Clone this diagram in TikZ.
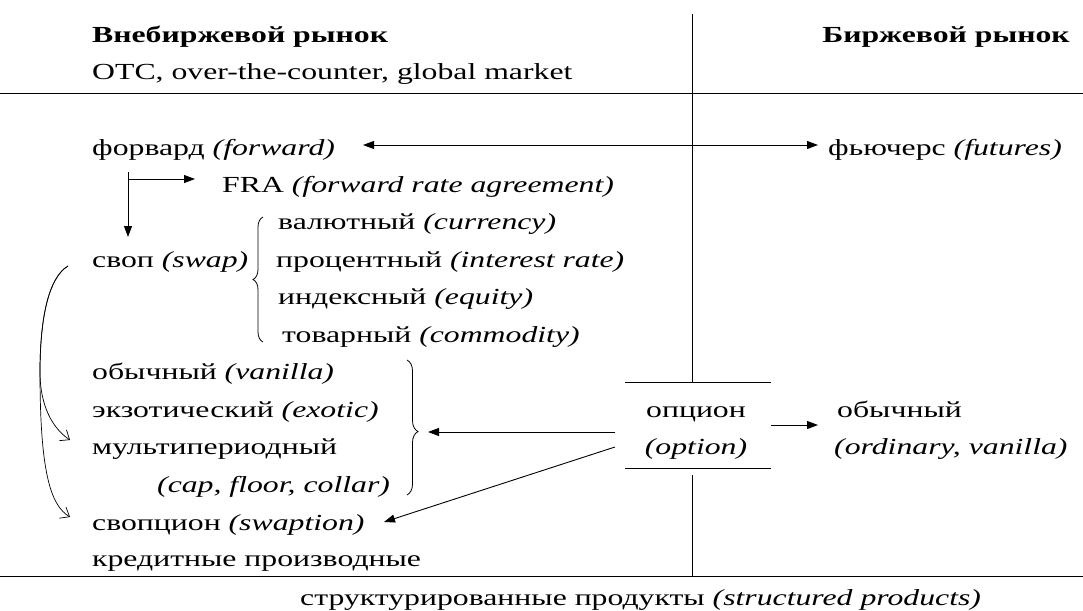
\documentclass[tikz,border=0pt]{standalone}
\usepackage{fontspec}
\setmainfont{Liberation Serif}[FakeStretch=1.38]
\usetikzlibrary{arrows.meta,decorations.pathreplacing}
\newcommand\bodyfont{\fontsize{23}{27}\selectfont}
\begin{document}
\begin{tikzpicture}[x=1pt,y=-1pt,
  txt/.style={inner sep=0pt, anchor=base west, font=\bodyfont},
  rulestyle/.style={line width=1pt},
  fillarrow/.style={line width=0.9pt,-{Triangle[length=11pt,width=8pt]}},
  dblarrow/.style={line width=0.9pt,{Triangle[length=11pt,width=8pt]}-{Triangle[length=11pt,width=8pt]}},
  openarrow/.style={line width=0.7pt,-{Straight Barb[length=8pt,width=13pt,line width=0.7pt]}},
  bracestyle/.style={line width=0.8pt, decorate, decoration={brace,amplitude=10pt}}]
\useasboundingbox (0,0) rectangle (1083,610);

% headers
\node[txt, font=\bodyfont\bfseries] (otcT) at (92,42) {Внебиржевой рынок};
\node[txt, anchor=base east, font=\bodyfont\bfseries] (exT) at (1070,42) {Биржевой рынок};
\node[txt] (otcS) at (92,79) {OTC, over-the-counter, global market};

% rules
\coordinate (hL) at (0,93); \coordinate (hR) at (1083,93);
\coordinate (bL) at (0,576); \coordinate (bR) at (1083,576);
\coordinate (vT) at (692,14); \coordinate (vM1) at (692,382);
\coordinate (vM2) at (692,475); \coordinate (vB) at (692,576);
\coordinate (oT1) at (625,382); \coordinate (oT2) at (771,382);
\coordinate (oB1) at (625,468); \coordinate (oB2) at (771,468);
\draw[rulestyle] (hL) -- (hR);
\draw[rulestyle] (bL) -- (bR);
\draw[rulestyle] (vT) -- (vM1);
\draw[rulestyle] (vM2) -- (vB);
\draw[rulestyle] (oT1) -- (oT2);
\draw[rulestyle] (oB1) -- (oB2);

% left column texts
\node[txt] (fwd) at (92,155) {форвард \textit{(forward)}};
\node[txt] (fut) at (828,155) {фьючерс \textit{(futures)}};
\node[txt] (fra) at (222,192) {FRA \textit{(forward rate agreement)}};
\node[txt] (cur) at (278,229.5) {валютный \textit{(currency)}};
\node[txt] (swap) at (92,267) {своп \textit{(swap)}};
\node[txt] (irs) at (276,267) {процентный \textit{(interest rate)}};
\node[txt] (eq) at (278,304.5) {индексный \textit{(equity)}};
\node[txt] (com) at (282,342) {товарный \textit{(commodity)}};
\node[txt] (van) at (92,379.5) {обычный \textit{(vanilla)}};
\node[txt] (exo) at (92,417) {экзотический \textit{(exotic)}};
\node[txt] (multi) at (92,454.5) {мультипериодный};
\node[txt] (capf) at (157,492) {\textit{(cap, floor, collar)}};
\node[txt] (swpt) at (92,530) {свопцион \textit{(swaption)}};
\node[txt] (cred) at (92,566) {кредитные производные};
\node[txt] (struct) at (300,605) {структурированные продукты \textit{(structured products)}};

% option
\node[txt, anchor=base] (opt) at (696,417) {опцион};
\node[txt, anchor=base] (optE) at (696,454.5) {\textit{(option)}};
\node[txt] (ord) at (837,417) {обычный};
\node[txt] (ordE) at (834,454.5) {\textit{(ordinary, vanilla)}};

% arrows
\coordinate (fwdA) at (363,145); \coordinate (futA) at (818,145);
\draw[dblarrow] (fwdA) -- (futA);

\coordinate (elb) at (128,172); \coordinate (elbS) at (128,237);
\coordinate (elbH) at (128,179); \coordinate (elbF) at (195,179);
\draw[fillarrow] (elb) -- (elbS);
\draw[fillarrow] (elbH) -- (elbF);

\coordinate (optA) at (771,425); \coordinate (ordA) at (818,425);
\draw[fillarrow] (optA) -- (ordA);
\coordinate (optL) at (615,432); \coordinate (brA) at (428,432);
\draw[fillarrow] (optL) -- (brA);
\coordinate (optL2) at (615,447); \coordinate (swA) at (384,522);
\draw[fillarrow] (optL2) -- (swA);

% braces
\coordinate (b1a) at (263,342); \coordinate (b1b) at (263,217);
\draw[bracestyle] (b1a) -- (b1b);
\coordinate (b2a) at (407,360); \coordinate (b2b) at (407,495);
\draw[bracestyle,decoration={brace,amplitude=11pt,aspect=0.53}] (b2a) -- (b2b);

% curved arrows
\coordinate (cS) at (68,266);
\coordinate (cM) at (40,372);
\coordinate (cE1) at (70,440);
\coordinate (cE2) at (70,517);
\draw[openarrow] (cS) .. controls (48,278) and (40,320) .. (cM)
  .. controls (40,405) and (52,428) .. (cE1);
\draw[openarrow] (cS) .. controls (48,278) and (40,320) .. (cM)
  .. controls (40,470) and (50,505) .. (cE2);
\end{tikzpicture}
\end{document}
